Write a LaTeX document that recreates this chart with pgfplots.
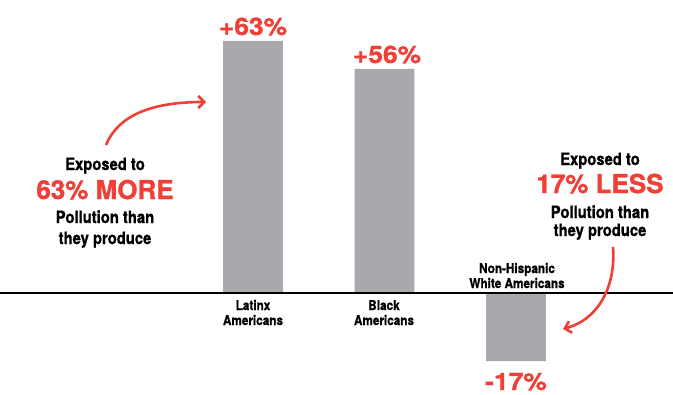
\documentclass[border=0pt]{standalone}
\usepackage{fontspec}
\setmainfont{TeX Gyre Heros}
\newfontfamily\cond[FakeStretch=0.87,FakeBold=1]{TeX Gyre Heros}
\newfontfamily\redf[FakeBold=1.2]{TeX Gyre Heros}
\newfontfamily\valf[FakeStretch=1.1,FakeBold=1.2]{TeX Gyre Heros}
\usepackage{pgfplots}
\pgfplotsset{compat=1.18}
\usetikzlibrary{arrows.meta}
\definecolor{barg}{HTML}{A7A9AC}
\definecolor{redc}{HTML}{EE4036}
\begin{document}
\begin{tikzpicture}[x=1bp,y=1bp]
\useasboundingbox (0,0) rectangle (673,394);
\begin{axis}[
  at={(0,0)}, anchor=south west,
  scale only axis, width=673bp, height=394bp,
  xmin=-1.924, xmax=3.194, ymin=-25.25, ymax=73.25,
  hide axis, ybar, bar width=0.456,
  xtick=data, xticklabels={Latinx Americans, Black Americans, Non-Hispanic White Americans},
]
\addplot[fill=barg, draw=none] coordinates {(0,63) (1,56) (2,-17)};
\end{axis}
\draw[line width=2bp] (0,101) -- (673,101);
% value labels
\tikzset{val/.style={anchor=base, text=redc, font=\valf\bfseries\fontsize{24bp}{24bp}\selectfont, inner sep=0},
  cat/.style={anchor=base, font=\cond\bfseries\fontsize{13.5bp}{13.5bp}\selectfont, inner sep=0},
  ann/.style={anchor=base, font=\cond\bfseries\fontsize{17bp}{17bp}\selectfont, inner sep=0},
  big/.style={anchor=base, text=redc, font=\redf\bfseries\fontsize{26bp}{26bp}\selectfont, inner sep=0}}
\node[val] at (253,359) {+63\%};
\node[val] at (387,331) {+56\%};
\node[val] at (516,4) {-17\%};
% category labels
\node[cat] at (253,84) {Latinx};
\node[cat] at (253,69) {Americans};
\node[cat] at (384,84) {Black};
\node[cat] at (384,69) {Americans};
\node[cat] at (517,121) {Non-Hispanic};
\node[cat] at (517,106) {White Americans};
% left annotation
\node[ann] at (105,224) {Exposed to};
\node[big] at (105,195) {63\% MORE};
\node[ann] at (105,171) {Pollution than};
\node[ann] at (105,150) {they produce};
% right annotation
\node[ann] at (600,229) {Exposed to};
\node[big] at (600,201) {17\% LESS};
\node[ann] at (600,176) {Pollution than};
\node[ann] at (600,158) {they produce};
% arrows
\draw[redc, line width=2.6bp, -{Straight Barb[length=6bp,width=12bp]}] (106,249) .. controls (118,278) and (150,292) .. (206,292);
\draw[redc, line width=2.6bp, -{Straight Barb[length=6bp,width=12bp]}] (613,147) .. controls (616,110) and (600,75) .. (563,65);
\end{tikzpicture}
\end{document}
